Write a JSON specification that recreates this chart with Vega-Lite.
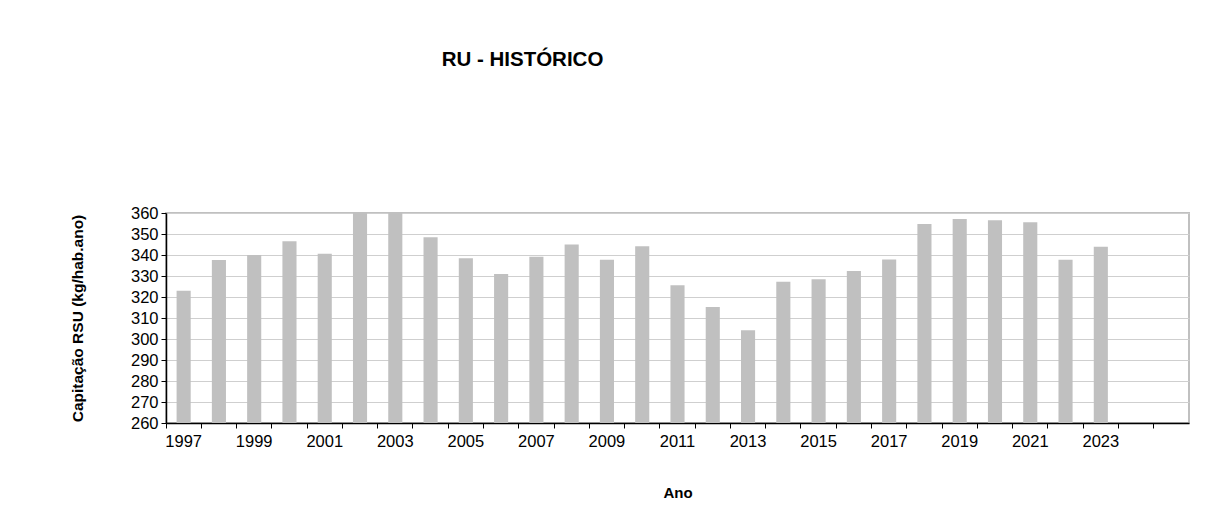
{
  "$schema": "https://vega.github.io/schema/vega-lite/v6.json",
  "width": 1023,
  "height": 210,
  "autosize": {"type": "none"},
  "padding": {"left": 166, "top": 213, "right": 37, "bottom": 90},
  "background": "white",
  "title": {
    "text": "RU - HISTÓRICO",
    "font": "Liberation Sans",
    "fontSize": 20.5,
    "fontWeight": "bold",
    "color": "black",
    "anchor": "middle",
    "dx": -155,
    "offset": 119,
    "baseline": "alphabetic"
  },
  "data": {
    "values": [
      {"ano": 1997, "valor": 323.0},
      {"ano": 1998, "valor": 337.6},
      {"ano": 1999, "valor": 340.0},
      {"ano": 2000, "valor": 346.5},
      {"ano": 2001, "valor": 340.6},
      {"ano": 2002, "valor": 362.0},
      {"ano": 2003, "valor": 362.0},
      {"ano": 2004, "valor": 348.5},
      {"ano": 2005, "valor": 338.5},
      {"ano": 2006, "valor": 331.0},
      {"ano": 2007, "valor": 339.2},
      {"ano": 2008, "valor": 345.0},
      {"ano": 2009, "valor": 337.7},
      {"ano": 2010, "valor": 344.2},
      {"ano": 2011, "valor": 325.6},
      {"ano": 2012, "valor": 315.2},
      {"ano": 2013, "valor": 304.2},
      {"ano": 2014, "valor": 327.3},
      {"ano": 2015, "valor": 328.4},
      {"ano": 2016, "valor": 332.4},
      {"ano": 2017, "valor": 337.9},
      {"ano": 2018, "valor": 354.8},
      {"ano": 2019, "valor": 357.1},
      {"ano": 2020, "valor": 356.6},
      {"ano": 2021, "valor": 355.6},
      {"ano": 2022, "valor": 337.7},
      {"ano": 2023, "valor": 343.9}
    ]
  },
  "mark": {"type": "bar", "color": "#c0c0c0", "clip": true, "width": {"band": 0.4}},
  "encoding": {
    "x": {
      "field": "ano",
      "type": "ordinal",
      "scale": {
        "domain": [1997,1998,1999,2000,2001,2002,2003,2004,2005,2006,2007,2008,2009,2010,2011,2012,2013,2014,2015,2016,2017,2018,2019,2020,2021,2022,2023,2024,2025],
        "paddingInner": 0,
        "paddingOuter": 0
      },
      "axis": {
        "title": "Ano",
        "titleFont": "Liberation Sans",
        "titleFontSize": 15,
        "titleFontWeight": "bold",
        "titleColor": "black",
        "titlePadding": 36,
        "labelFont": "Liberation Sans",
        "labelFontSize": 16.5,
        "labelColor": "black",
        "labelAngle": 0,
        "labelPadding": 5,
        "labelExpr": "((datum.value - 1997) % 2 == 0 && datum.value < 2025) ? datum.label : ''",
        "bandPosition": 0,
        "tickSize": 5,
        "tickColor": "black",
        "domainColor": "black",
        "domainWidth": 1.5,
        "grid": false
      }
    },
    "y": {
      "field": "valor",
      "type": "quantitative",
      "scale": {"domain": [260, 360], "zero": false, "nice": false},
      "axis": {
        "title": "Capitação RSU (kg/hab.ano)",
        "titleFont": "Liberation Sans",
        "titleFontSize": 15.5,
        "titleFontWeight": "bold",
        "titleColor": "black",
        "titlePadding": 45,
        "labelFont": "Liberation Sans",
        "labelFontSize": 16.5,
        "labelColor": "black",
        "labelPadding": 3,
        "values": [260,270,280,290,300,310,320,330,340,350,360],
        "tickSize": 5,
        "tickColor": "black",
        "domainColor": "black",
        "domainWidth": 1.5,
        "grid": true,
        "gridColor": "#cfcfcf",
        "gridWidth": 1.2
      }
    }
  },
  "config": {
    "view": {"stroke": "#c0c0c0", "strokeWidth": 2}
  }
}
